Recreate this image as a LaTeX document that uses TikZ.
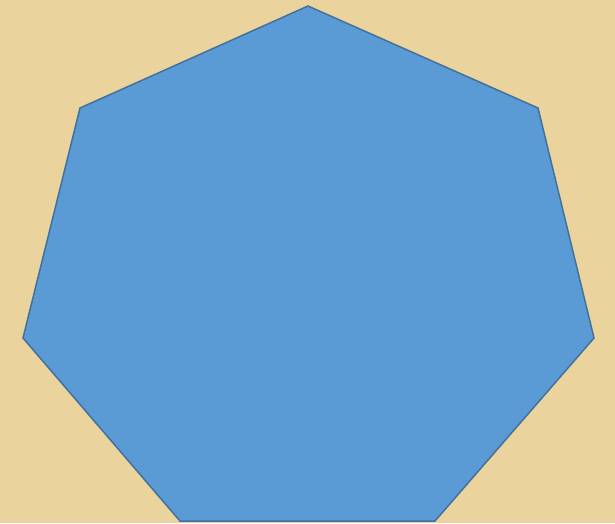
\documentclass[tikz,border=0pt]{standalone}
\definecolor{papyrus}{HTML}{EAD39C}
\definecolor{hexfill}{HTML}{5B9BD5}
\definecolor{hexline}{HTML}{41719C}
\begin{document}
\begin{tikzpicture}[x=1pt,y=-1pt]
\fill[papyrus] (0,0) rectangle (615,523);
\useasboundingbox (0,0) rectangle (615,523);
\coordinate (p1) at (308,6);
\coordinate (p2) at (538,108);
\coordinate (p3) at (594,338);
\coordinate (p4) at (435,521);
\coordinate (p5) at (180,521);
\coordinate (p6) at (23,338);
\coordinate (p7) at (80,108);
\filldraw[fill=hexfill,draw=hexline,line width=1.5pt,line join=miter]
  (p1) -- (p2) -- (p3) -- (p4) -- (p5) -- (p6) -- (p7) -- cycle;
\end{tikzpicture}
\end{document}
